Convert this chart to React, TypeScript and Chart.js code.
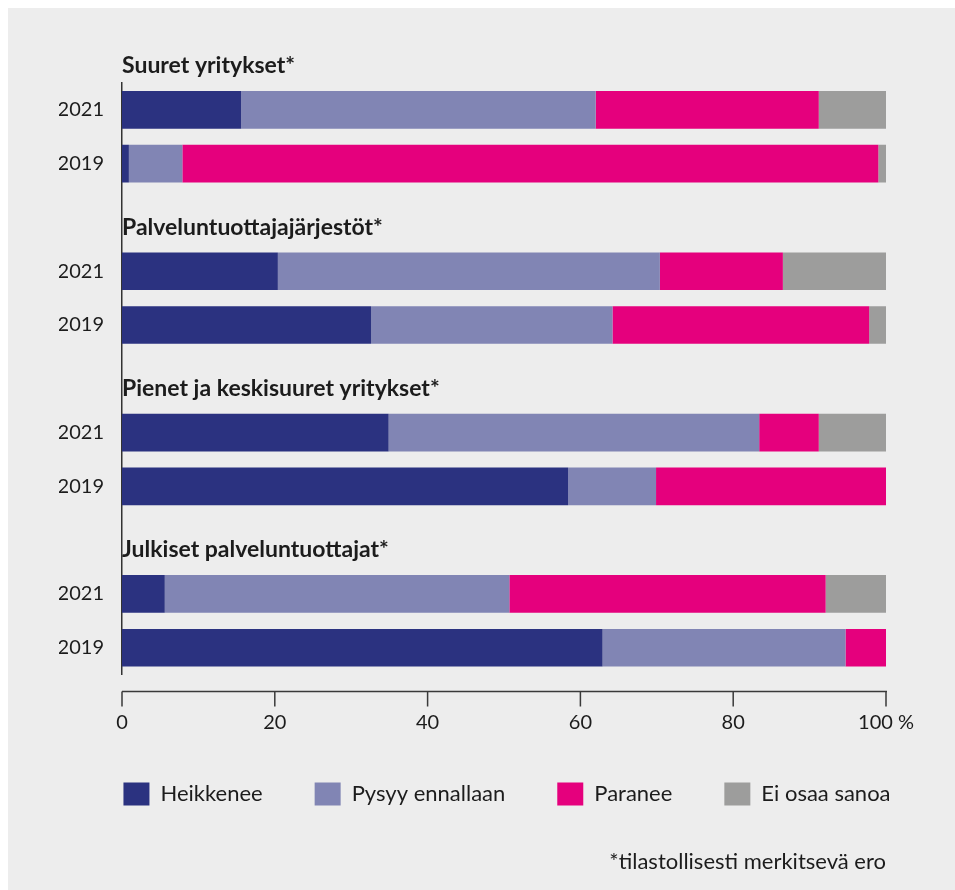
import React, { useEffect, useRef } from 'react';
import { Chart, registerables } from 'chart.js';

Chart.register(...registerables);

const groups = [
  'Suuret yritykset*',
  'Palveluntuottajajärjestöt*',
  'Pienet ja keskisuuret yritykset*',
  'Julkiset palveluntuottajat*',
];
const years = ['2021', '2019'];
const seriesNames = ['Heikkenee', 'Pysyy ennallaan', 'Paranee', 'Ei osaa sanoa'];
const seriesColors = ['#2b3280', '#8185b4', '#e5007d', '#9d9d9c'];

// bar order: group1 2021, group1 2019, group2 2021, group2 2019, ...
const heikkenee = [15.6, 0.9, 20.4, 32.6, 34.9, 58.4, 5.6, 62.9];
const pysyy = [46.4, 7.0, 50.0, 31.6, 48.5, 11.5, 45.1, 31.8];
const paranee = [29.2, 91.1, 16.1, 33.6, 7.8, 30.1, 41.4, 5.3];
const eiOsaa = [8.8, 1.0, 13.5, 2.2, 8.8, 0, 7.9, 0];

const xTicks = [0, 20, 40, 60, 80, 100];
const footnote = '*tilastollisesti merkitsevä ero';

const FONT = 'Lato, "Open Sans", sans-serif';

export default function App() {
  const canvasRef = useRef<HTMLCanvasElement | null>(null);

  useEffect(() => {
    if (!canvasRef.current) return;
    const seriesValues = [heikkenee, pysyy, paranee, eiOsaa];

    // rows: a gap row before each group after the first
    const rowLabels: string[] = [];
    const rowBar: (number | null)[] = [];
    const groupFirstRow: number[] = [];
    groups.forEach((_, gi) => {
      if (gi > 0) {
        rowLabels.push('');
        rowBar.push(null);
      }
      groupFirstRow.push(rowLabels.length);
      years.forEach((y, yi) => {
        rowLabels.push(y);
        rowBar.push(gi * years.length + yi);
      });
    });

    const datasets = seriesNames.map((name, si) => ({
      label: name,
      data: rowBar.map((b) => (b === null ? null : seriesValues[si][b])),
      backgroundColor: seriesColors[si],
      borderWidth: 0,
      barPercentage: 0.7,
      categoryPercentage: 1,
    }));

    const groupTitles = {
      id: 'groupTitles',
      afterDraw(chart: any) {
        const { ctx, chartArea, scales } = chart;
        const y = scales.y;
        ctx.save();
        ctx.font = `bold 23px ${FONT}`;
        ctx.fillStyle = '#1c1c1c';
        ctx.textAlign = 'left';
        ctx.textBaseline = 'middle';
        groups.forEach((g, gi) => {
          const py = y.getPixelForValue(groupFirstRow[gi]) - 44;
          ctx.fillText(g, chartArea.left, py);
        });
        ctx.restore();
      },
    };

    const xAxisLine = {
      id: 'xAxisLine',
      afterDraw(chart: any) {
        const { ctx, chartArea, scales } = chart;
        const x = scales.x;
        const ly = chartArea.bottom + 17;
        ctx.save();
        ctx.strokeStyle = '#3a3a3a';
        ctx.lineWidth = 1.5;
        ctx.beginPath();
        ctx.moveTo(chartArea.left, ly);
        ctx.lineTo(chartArea.right + 1, ly);
        x.ticks.forEach((t: any) => {
          const px = x.getPixelForValue(t.value);
          ctx.moveTo(px, ly);
          ctx.lineTo(px, ly + 15);
        });
        ctx.stroke();
        ctx.restore();
      },
    };

    const chart = new Chart(canvasRef.current, {
      type: 'bar',
      data: { labels: rowLabels, datasets },
      options: {
        indexAxis: 'y',
        animation: false,
        responsive: true,
        maintainAspectRatio: false,
        layout: { padding: { top: 75, left: 51, right: 0, bottom: 0 } },
        scales: {
          x: {
            type: 'linear',
            stacked: true,
            min: 0,
            max: 100,
            afterBuildTicks(scale: any) {
              scale.ticks = xTicks.map((v) => ({ value: v }));
            },
            ticks: {
              padding: 36,
              color: '#1c1c1c',
              font: { family: FONT, size: 20 },
              callback: (v: any) => (Number(v) === 100 ? '100 %' : String(v)),
            },
            grid: { display: false, drawTicks: false },
            border: { display: false },
            afterFit(scale: any) {
              scale.height = 56;
            },
          },
          y: {
            type: 'category',
            stacked: true,
            grid: { display: false, drawTicks: false },
            border: { display: true, color: '#333333', width: 1.5 },
            ticks: {
              autoSkip: false,
              padding: 18,
              color: '#1c1c1c',
              font: { family: FONT, size: 20 },
            },
            afterFit(scale: any) {
              scale.width = 63;
            },
          },
          yRight: {
            type: 'category',
            position: 'right',
            display: true,
            grid: { display: false, drawTicks: false },
            border: { display: false },
            ticks: { display: false },
            afterFit(scale: any) {
              scale.width = 69;
            },
          },
        },
        plugins: {
          legend: {
            position: 'bottom',
            align: 'center',
            fullSize: true,
            labels: {
              boxWidth: 26,
              boxHeight: 23,
              padding: 52,
              color: '#1c1c1c',
              font: { family: FONT, size: 22 },
            },
          },
          subtitle: {
            display: true,
            text: footnote,
            position: 'bottom',
            align: 'end',
            fullSize: false,
            color: '#1c1c1c',
            font: { family: FONT, size: 22, weight: 'normal' },
            padding: { top: 33, bottom: 15 },
          },
          title: { display: false },
          tooltip: { enabled: false },
        },
      },
      plugins: [groupTitles, xAxisLine],
    } as any);

    return () => chart.destroy();
  }, []);

  return (
    <div
      style={{
        position: 'fixed',
        left: 8,
        top: 8,
        right: 0,
        bottom: 0,
        background: '#ededed',
      }}
    >
      <div style={{ position: 'relative', width: '100%', height: '100%' }}>
        <canvas ref={canvasRef} />
      </div>
    </div>
  );
}
